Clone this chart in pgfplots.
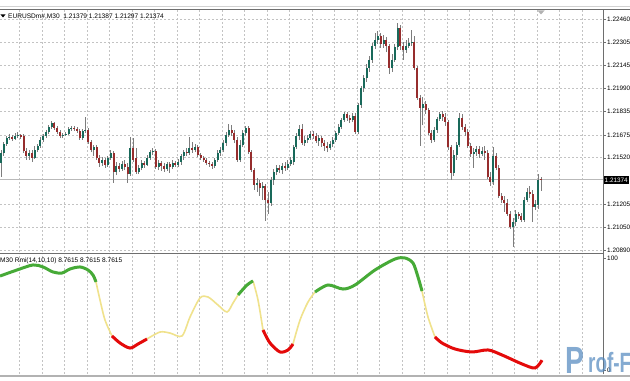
\documentclass[border=0pt]{standalone}
\usepackage{pgfplots}
\pgfplotsset{compat=1.18}
\usepackage{pgfplotstable}
\usepackage{fontspec}
\setmainfont{Liberation Sans}
\definecolor{bullc}{RGB}{25,105,90}
\definecolor{bearc}{RGB}{150,45,45}
\definecolor{wickc}{RGB}{125,125,125}
\definecolor{gridc}{RGB}{195,195,195}
\definecolor{framec}{RGB}{110,110,110}
\definecolor{rmig}{RGB}{70,170,55}
\definecolor{rmir}{RGB}{228,10,10}
\definecolor{rmiy}{RGB}{240,226,140}
\definecolor{wmb}{RGB}{80,135,190}
\newcommand\sm{\fontsize{6.6}{7.5}\selectfont}
\newcommand\tk{\fontsize{6.4}{7.5}\selectfont}

% OHLC prices of the M30 bars (i = bar index)
\pgfplotstableread{
i o h l c
0 1.21485 1.21573 1.21390 1.21553
1 1.21553 1.21627 1.21532 1.21614
2 1.21614 1.21668 1.21600 1.21654
3 1.21654 1.21681 1.21641 1.21661
4 1.21661 1.21675 1.21634 1.21648
5 1.21648 1.21688 1.21641 1.21668
6 1.21668 1.21695 1.21654 1.21675
7 1.21675 1.21681 1.21648 1.21661
8 1.21668 1.21681 1.21553 1.21566
9 1.21566 1.21587 1.21505 1.21532
10 1.21532 1.21573 1.21505 1.21553
11 1.21553 1.21573 1.21492 1.21519
12 1.21519 1.21600 1.21512 1.21573
13 1.21573 1.21614 1.21559 1.21600
14 1.21600 1.21661 1.21587 1.21641
15 1.21641 1.21681 1.21627 1.21668
16 1.21668 1.21709 1.21654 1.21695
17 1.21695 1.21742 1.21681 1.21729
18 1.21729 1.21770 1.21715 1.21756
19 1.21756 1.21763 1.21709 1.21722
20 1.21722 1.21736 1.21681 1.21695
21 1.21695 1.21709 1.21654 1.21668
22 1.21668 1.21688 1.21654 1.21675
23 1.21675 1.21695 1.21668 1.21681
24 1.21681 1.21729 1.21675 1.21715
25 1.21715 1.21736 1.21702 1.21722
26 1.21722 1.21736 1.21702 1.21715
27 1.21715 1.21729 1.21688 1.21702
28 1.21702 1.21715 1.21641 1.21654
29 1.21654 1.21715 1.21641 1.21702
30 1.21702 1.21797 1.21688 1.21709
31 1.21709 1.21722 1.21614 1.21627
32 1.21627 1.21641 1.21559 1.21573
33 1.21573 1.21607 1.21532 1.21593
34 1.21593 1.21607 1.21505 1.21519
35 1.21519 1.21539 1.21458 1.21485
36 1.21485 1.21526 1.21465 1.21505
37 1.21505 1.21519 1.21451 1.21471
38 1.21471 1.21532 1.21458 1.21519
39 1.21519 1.21573 1.21505 1.21553
40 1.21553 1.21566 1.21349 1.21424
41 1.21424 1.21492 1.21403 1.21465
42 1.21465 1.21485 1.21424 1.21444
43 1.21444 1.21498 1.21431 1.21478
44 1.21478 1.21505 1.21437 1.21458
45 1.21458 1.21485 1.21349 1.21410
46 1.21410 1.21661 1.21397 1.21587
47 1.21587 1.21654 1.21492 1.21505
48 1.21519 1.21587 1.21410 1.21424
49 1.21424 1.21471 1.21410 1.21451
50 1.21451 1.21505 1.21437 1.21485
51 1.21485 1.21498 1.21451 1.21471
52 1.21471 1.21539 1.21465 1.21519
53 1.21519 1.21573 1.21505 1.21559
54 1.21559 1.21587 1.21539 1.21566
55 1.21566 1.21580 1.21444 1.21458
56 1.21458 1.21505 1.21437 1.21485
57 1.21485 1.21498 1.21431 1.21465
58 1.21465 1.21485 1.21424 1.21444
59 1.21444 1.21492 1.21431 1.21478
60 1.21478 1.21492 1.21417 1.21458
61 1.21458 1.21505 1.21444 1.21485
62 1.21485 1.21498 1.21458 1.21471
63 1.21471 1.21512 1.21458 1.21492
64 1.21492 1.21546 1.21471 1.21532
65 1.21532 1.21573 1.21505 1.21559
66 1.21559 1.21587 1.21532 1.21553
67 1.21553 1.21661 1.21539 1.21587
68 1.21587 1.21627 1.21553 1.21573
69 1.21573 1.21614 1.21559 1.21593
70 1.21593 1.21607 1.21526 1.21539
71 1.21539 1.21553 1.21505 1.21519
72 1.21519 1.21532 1.21492 1.21505
73 1.21505 1.21519 1.21471 1.21485
74 1.21485 1.21498 1.21458 1.21478
75 1.21478 1.21492 1.21444 1.21465
76 1.21465 1.21519 1.21451 1.21505
77 1.21505 1.21573 1.21492 1.21553
78 1.21553 1.21593 1.21532 1.21573
79 1.21573 1.21641 1.21559 1.21620
80 1.21620 1.21695 1.21600 1.21675
81 1.21675 1.21749 1.21661 1.21709
82 1.21709 1.21742 1.21668 1.21688
83 1.21688 1.21709 1.21620 1.21641
84 1.21641 1.21661 1.21492 1.21505
85 1.21505 1.21641 1.21492 1.21607
86 1.21607 1.21709 1.21593 1.21688
87 1.21688 1.21736 1.21668 1.21722
88 1.21722 1.21736 1.21546 1.21559
89 1.21559 1.21573 1.21424 1.21437
90 1.21437 1.21451 1.21302 1.21336
91 1.21336 1.21383 1.21288 1.21349
92 1.21349 1.21370 1.21261 1.21315
93 1.21315 1.21356 1.21234 1.21329
94 1.21329 1.21342 1.21092 1.21234
95 1.21234 1.21288 1.21139 1.21214
96 1.21214 1.21390 1.21193 1.21370
97 1.21370 1.21444 1.21336 1.21424
98 1.21424 1.21471 1.21403 1.21451
99 1.21451 1.21471 1.21417 1.21437
100 1.21437 1.21485 1.21410 1.21465
101 1.21465 1.21492 1.21431 1.21451
102 1.21451 1.21505 1.21437 1.21478
103 1.21478 1.21526 1.21465 1.21505
104 1.21492 1.21607 1.21471 1.21593
105 1.21593 1.21688 1.21580 1.21668
106 1.21668 1.21742 1.21641 1.21715
107 1.21715 1.21749 1.21607 1.21620
108 1.21620 1.21668 1.21600 1.21641
109 1.21641 1.21675 1.21620 1.21654
110 1.21654 1.21702 1.21641 1.21681
111 1.21681 1.21702 1.21648 1.21668
112 1.21668 1.21688 1.21620 1.21634
113 1.21634 1.21675 1.21600 1.21654
114 1.21654 1.21668 1.21593 1.21620
115 1.21620 1.21641 1.21566 1.21600
116 1.21600 1.21627 1.21559 1.21587
117 1.21587 1.21634 1.21573 1.21614
118 1.21614 1.21661 1.21593 1.21641
119 1.21641 1.21702 1.21627 1.21688
120 1.21688 1.21749 1.21675 1.21729
121 1.21729 1.21790 1.21715 1.21776
122 1.21776 1.21831 1.21763 1.21817
123 1.21817 1.21831 1.21770 1.21790
124 1.21790 1.21810 1.21756 1.21776
125 1.21776 1.21824 1.21763 1.21804
126 1.21804 1.21824 1.21681 1.21695
127 1.21695 1.21892 1.21681 1.21878
128 1.21878 1.22007 1.21858 1.21993
129 1.21993 1.22081 1.21966 1.22061
130 1.22061 1.22156 1.22034 1.22129
131 1.22129 1.22210 1.22102 1.22183
132 1.22183 1.22298 1.22163 1.22278
133 1.22278 1.22366 1.22258 1.22319
134 1.22319 1.22380 1.22292 1.22346
135 1.22346 1.22366 1.22265 1.22292
136 1.22292 1.22353 1.22265 1.22319
137 1.22319 1.22339 1.22237 1.22278
138 1.22278 1.22292 1.22088 1.22129
139 1.22129 1.22224 1.22102 1.22183
140 1.22183 1.22292 1.22170 1.22271
141 1.22271 1.22434 1.22251 1.22400
142 1.22400 1.22420 1.22251 1.22278
143 1.22278 1.22305 1.22183 1.22251
144 1.22251 1.22319 1.22231 1.22278
145 1.22278 1.22332 1.22265 1.22298
146 1.22298 1.22387 1.22278 1.22305
147 1.22305 1.22346 1.22115 1.22129
148 1.22129 1.22143 1.21912 1.21926
149 1.21926 1.21946 1.21600 1.21858
150 1.21858 1.21932 1.21742 1.21885
151 1.21885 1.21905 1.21817 1.21844
152 1.21844 1.21858 1.21675 1.21688
153 1.21688 1.21709 1.21620 1.21641
154 1.21641 1.21729 1.21627 1.21709
155 1.21709 1.21797 1.21688 1.21783
156 1.21783 1.21831 1.21770 1.21817
157 1.21817 1.21837 1.21770 1.21797
158 1.21797 1.21824 1.21736 1.21763
159 1.21763 1.21776 1.21573 1.21593
160 1.21593 1.21607 1.21370 1.21417
161 1.21417 1.21573 1.21397 1.21539
162 1.21539 1.21627 1.21505 1.21607
163 1.21607 1.21824 1.21593 1.21790
164 1.21790 1.21817 1.21709 1.21729
165 1.21729 1.21749 1.21668 1.21695
166 1.21695 1.21715 1.21587 1.21600
167 1.21600 1.21620 1.21526 1.21546
168 1.21546 1.21587 1.21451 1.21559
169 1.21559 1.21600 1.21532 1.21580
170 1.21580 1.21600 1.21519 1.21546
171 1.21546 1.21593 1.21532 1.21566
172 1.21566 1.21600 1.21505 1.21553
173 1.21553 1.21573 1.21376 1.21390
174 1.21390 1.21424 1.21329 1.21356
175 1.21356 1.21593 1.21336 1.21532
176 1.21532 1.21553 1.21437 1.21451
177 1.21451 1.21471 1.21248 1.21261
178 1.21261 1.21281 1.21214 1.21234
179 1.21234 1.21261 1.21153 1.21214
180 1.21214 1.21241 1.21126 1.21139
181 1.21139 1.21159 1.21037 1.21051
182 1.21051 1.21112 1.20915 1.21085
183 1.21085 1.21166 1.21058 1.21139
184 1.21139 1.21153 1.21105 1.21126
185 1.21126 1.21146 1.21085 1.21098
186 1.21098 1.21254 1.21085 1.21234
187 1.21234 1.21315 1.21220 1.21288
188 1.21288 1.21329 1.21248 1.21275
189 1.21275 1.21302 1.21085 1.21187
190 1.21187 1.21234 1.21166 1.21207
191 1.21200 1.21410 1.21173 1.21370
192 1.21379 1.21387 1.21297 1.21374
}\candles

\begin{document}
\begin{tikzpicture}[x=1bp,y=1bp]
\useasboundingbox (0,0) rectangle (630,380);
\clip (0,0) rectangle (630,380);
\fill[white] (0,0) rectangle (630,380);
\draw[gray!35, line width=1bp] (0,373.5) -- (630,373.5);
\draw[framec, line width=1bp] (0,370) -- (630,370);

\begin{axis}[at={(0bp,128bp)}, anchor=south west, scale only axis,
  width=603bp, height=242bp,
  xmin=-0.3556, xmax=214.04, ymin=1.20881, ymax=1.22522,
  axis line style={draw=none}, tick style={draw=none}, major tick length=0pt,
  xtick={6.507,14.507,...,210}, xticklabels={},
  ytick={1.20890,1.21050,1.21205,1.21520,1.21675,1.21835,1.21990,1.22145,1.22305,1.22460},
  yticklabels={1.20890,1.21050,1.21205,1.21520,1.21675,1.21835,1.21990,1.22145,1.22305,1.22460},
  yticklabel pos=right,
  yticklabel style={font=\tk, inner sep=0pt, xshift=4bp, anchor=west},
  xmajorgrids, ymajorgrids,
  grid style={gridc, dash pattern=on 2bp off 2bp, line width=0.6bp}]
\addplot[gray!55, line width=0.8bp] coordinates {(-0.3556,1.21374) (214.04,1.21374)};
\addplot[draw=none, mark=none, error bars/.cd, y dir=plus, y explicit, error mark=none,
  error bar style={draw=wickc, line width=0.8bp}]
  table[x=i, y=l, y error plus expr={\thisrow{h}-\thisrow{l}}] \candles;
\addplot[draw=none, mark=none, error bars/.cd, y dir=plus, y explicit, error mark=none,
  error bar style={draw=bullc, line width=2bp}]
  table[x=i, y expr={\thisrow{c}>\thisrow{o} ? \thisrow{o} : nan}, y error plus expr={\thisrow{c}-\thisrow{o}}] \candles;
\addplot[draw=none, mark=none, error bars/.cd, y dir=plus, y explicit, error mark=none,
  error bar style={draw=bearc, line width=2bp}]
  table[x=i, y expr={\thisrow{c}>\thisrow{o} ? nan : \thisrow{c}}, y error plus expr={\thisrow{o}-\thisrow{c}}] \candles;
\end{axis}

\begin{axis}[at={(0bp,6bp)}, anchor=south west, scale only axis,
  width=603bp, height=120bp,
  xmin=0, xmax=603, ymin=-3.571, ymax=103.571,
  axis line style={draw=none}, tick style={draw=none}, major tick length=0pt,
  xtick={19.3,41.8,...,600}, xticklabels={},
  ytick={0,100}, yticklabels={0,100},
  yticklabel pos=right,
  yticklabel style={font=\tk, inner sep=0pt, xshift=4bp, anchor=west},
  xmajorgrids,
  grid style={gridc, dash pattern=on 2bp off 2bp, line width=0.6bp}]
\addplot[rmiy, line width=1.6bp, smooth, tension=0.5] coordinates {(96,78.6) (100,62.5) (105,44.6) (112,30.4)};
\addplot[rmiy, line width=1.6bp, smooth, tension=0.5] coordinates {(147,27.7) (160,33.9) (170,33.0) (182,30.4) (190,47.3) (200,64.3) (208,65.2) (218,58.0) (227,51.8) (233,59.8) (238,67.0)};
\addplot[rmiy, line width=1.6bp, smooth, tension=0.5] coordinates {(253,79.5) (258,62.5) (263,35.7)};
\addplot[rmiy, line width=1.6bp, smooth, tension=0.5] coordinates {(293,23.2) (300,44.6) (308,60.7) (315,69.6)};
\addplot[rmiy, line width=1.6bp, smooth, tension=0.5] coordinates {(422,70.5) (428,47.3) (435,29.5)};
\addplot[rmig, line width=3bp, smooth, tension=0.5] coordinates {(0,83.9) (17,89.3) (33,93.8) (43,92.0) (53,87.5) (62,86.6) (70,90.2) (80,92.0) (88,89.3) (93,84.8) (96,78.6)};
\addplot[rmig, line width=3bp, smooth, tension=0.5] coordinates {(238,67.0) (247,75.9) (253,79.5)};
\addplot[rmig, line width=3bp, smooth, tension=0.5] coordinates {(315,69.6) (328,75.9) (343,72.3) (355,75.9) (375,89.3) (395,99.1) (405,100) (413,95.5) (418,83.0) (422,70.5)};
\addplot[rmir, line width=3bp, smooth, tension=0.5] coordinates {(112,30.4) (120,24.1) (130,19.6) (138,23.2) (147,27.7)};
\addplot[rmir, line width=3bp, smooth, tension=0.5] coordinates {(263,35.7) (270,24.1) (280,16.1) (288,17.9) (293,23.2)};
\addplot[rmir, line width=3bp, smooth, tension=0.5] coordinates {(435,29.5) (442,24.1) (455,18.75) (472,16.1) (488,17.9) (502,13.4) (522,5.4) (535,1.8) (542,8.76)};
\end{axis}

% frames
\draw[framec, line width=1bp] (0,126.5) -- (603,126.5);
\draw[framec, line width=0.8bp] (603,6) -- (603,370);
\draw[gray!60, line width=2bp] (0,4.5) -- (630,4.5);
\foreach \yy in {360.8,338.0,314.4,291.5,268.6,245.05,222.2,175.7,152.9,129.3,122,10}
  \draw[framec, line width=0.6bp] (603,\yy) -- ++(3,0);
\fill[gray!60] (537.5,369.5) -- (544.5,369.5) -- (541,365.5) -- cycle;
\node[anchor=west, fill=black, text=white, font=\tk, inner xsep=1bp, inner ysep=1.5bp] at (603.5,200) {1.21374};
% titles
\fill[black] (0.5,365.5) -- (5.5,365.5) -- (3,362.5) -- cycle;
\node[anchor=base west, inner sep=0pt, font=\sm] at (8,361.3) {EURUSDm\#,M30\ \ 1.21379 1.21387 1.21297 1.21374};
\node[anchor=base west, inner sep=0pt, font=\sm] at (0,117.3) {M30 Rmi(14,10,10) 8.7615 8.7615 8.7615};
% watermark
\node[anchor=base west, inner sep=0pt, text=wmb, opacity=0.7, xscale=0.75, font=\fontsize{38}{38}\bfseries\selectfont] at (565,7) {P};
\node[anchor=base west, inner sep=0pt, text=wmb, opacity=0.7, xscale=0.68, font=\fontsize{28}{28}\bfseries\selectfont] at (588,7.5) {rof-F};
\end{tikzpicture}
\end{document}
